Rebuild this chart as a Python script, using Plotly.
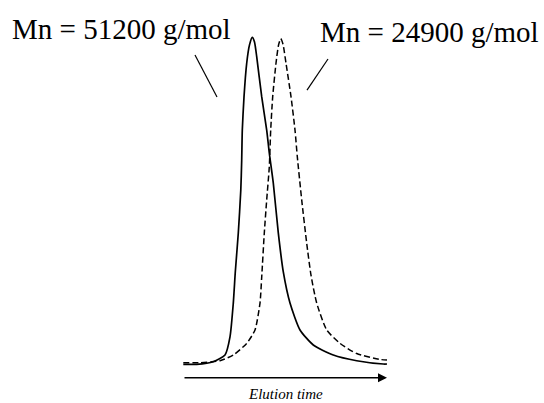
import plotly.graph_objects as go

# Elution time (arbitrary units) and normalized detector response (%)
time_51200 = [0.03, 1.37, 3.03, 4.2, 4.7, 5.03, 5.23, 5.53, 5.78, 5.87, 5.93, 6.1, 6.37, 6.65, 6.93,
              7.15, 7.37, 7.87, 8.37, 8.63, 9.03, 9.53, 10.03, 10.7, 11.7, 13.03, 15.03, 17.37, 20.03, 20.4]
signal_51200 = [0.2, 0.2, 1.0, 3.05, 8.6, 18.9, 28.4, 40.3, 53.4, 62.5, 71.7, 81.8, 92.1, 97.7, 100,
                98.6, 94.1, 81.9, 71.7, 64.7, 55.5, 40.3, 28.4, 18.9, 10.7, 6.1, 3.05, 1.3, 0.3, 0.3]

time_24900 = [0.03, 1.7, 3.7, 5.03, 6.37, 7.2, 7.7, 7.87, 8.13, 8.37, 8.63, 8.77, 8.97, 9.3, 9.55, 9.77,
              10.0, 10.3, 10.8, 11.2, 11.43, 11.87, 12.37, 12.8, 13.37, 14.37, 15.7, 17.37, 19.7, 20.4]
signal_24900 = [0.7, 0.7, 1.3, 3.05, 6.6, 10.7, 18.9, 26.8, 40.3, 50.4, 60.5, 71.7, 81.9, 92.1, 97.6, 99.6,
                97.9, 92.1, 81.9, 71.7, 63.6, 50.4, 37.2, 27.4, 18.9, 10.7, 6.6, 3.5, 1.7, 1.5]

label_high = "Mn = 51200 g/mol"
label_low = "Mn = 24900 g/mol"
axis_label = "Elution time"

fig = go.Figure()
fig.add_trace(go.Scatter(x=time_51200, y=signal_51200, mode="lines",
                         line=dict(color="black", width=1.7, shape="spline", smoothing=0.6),
                         showlegend=False, hoverinfo="skip"))
fig.add_trace(go.Scatter(x=time_24900, y=signal_24900, mode="lines",
                         line=dict(color="black", width=1.5, dash="6px,3px", shape="spline", smoothing=0.6),
                         showlegend=False, hoverinfo="skip"))

serif = "Liberation Serif, Times New Roman, serif"
fig.add_annotation(x=-6.2, y=102.6, xref="x", yref="y", text=label_high, showarrow=False,
                   font=dict(family=serif, size=29, color="black"), xanchor="center", yanchor="middle")
fig.add_annotation(x=24.6, y=101.6, xref="x", yref="y", text=label_low, showarrow=False,
                   font=dict(family=serif, size=29, color="black"), xanchor="center", yanchor="middle")

# leader lines
fig.add_shape(type="line", x0=1.2, y0=94.6, x1=3.4, y1=81.8, xref="x", yref="y",
              line=dict(color="black", width=1.2))
fig.add_shape(type="line", x0=14.5, y0=93.4, x1=12.4, y1=83.9, xref="x", yref="y",
              line=dict(color="black", width=1.2))

# elution time arrow
fig.add_annotation(x=20.4, y=-3.9, ax=0.0, ay=-3.9, xref="x", yref="y", axref="x", ayref="y",
                   text="", showarrow=True, arrowhead=2, arrowsize=1.2, arrowwidth=1.5, arrowcolor="black")
fig.add_annotation(x=10.2, y=-8.7, xref="x", yref="y", text="<i>" + axis_label + "</i>", showarrow=False,
                   font=dict(family=serif, size=15, color="black"), xanchor="center", yanchor="middle")

fig.update_layout(
    width=544, height=403,
    margin=dict(l=0, r=0, t=0, b=0),
    paper_bgcolor="white", plot_bgcolor="white",
    xaxis=dict(range=[-18.3, 36.1], visible=False, fixedrange=True),
    yaxis=dict(range=[-11.6, 111.4], visible=False, fixedrange=True),
)

fig.write_html("out.html", config={"displayModeBar": False},
               post_script="document.body.style.margin='0';document.body.style.overflow='hidden';")
